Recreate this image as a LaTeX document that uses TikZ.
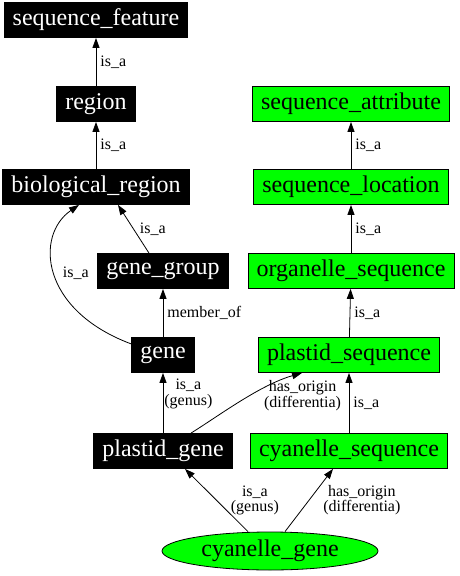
\documentclass[tikz,border=0pt]{standalone}
\usepackage{fontspec}
\setmainfont{Liberation Serif}
\usetikzlibrary{arrows.meta,shapes.geometric}
\begin{document}
\begin{tikzpicture}[x=1pt,y=-1pt,
    term/.style={draw=black, fill=black, text=white, line width=0.8pt, minimum height=35pt, inner xsep=8.5pt, font=\fontsize{24}{28}\selectfont},
    seqterm/.style={term, fill=green, text=black},
    rel/.style={-{Triangle[length=10pt,width=7pt]}, line width=0.8pt},
    lbl/.style={font=\fontsize{16}{15.5}\selectfont, align=center, inner sep=1pt}]
    \useasboundingbox (0,0) rectangle (459,576);
    % left column
    \node[term] (sf) at (96,20) {sequence\_feature};
    \node[term] (reg) at (96,104) {region};
    \node[term] (bioreg) at (96,187) {biological\_region};
    \node[term] (gg) at (163,271) {gene\_group};
    \node[term] (gene) at (163,355) {gene};
    \node[term] (pg) at (163,451) {plastid\_gene};
    % right column
    \node[seqterm] (sa) at (351,104) {sequence\_attribute};
    \node[seqterm] (sl) at (351,187) {sequence\_location};
    \node[seqterm] (os) at (351,271) {organelle\_sequence};
    \node[seqterm] (ps) at (349,355) {plastid\_sequence};
    \node[seqterm] (cs) at (349,451) {cyanelle\_sequence};
    \node[ellipse, draw=black, fill=green, line width=0.8pt, minimum width=216pt, minimum height=38pt, inner sep=0pt, font=\fontsize{24}{28}\selectfont] (cg) at (270,551) {cyanelle\_gene};
    % edges
    \draw[rel] (reg) -- node[lbl, right=3pt] {is\_a} (sf);
    \draw[rel] (bioreg) -- node[lbl, right=3pt] {is\_a} (reg);
    \draw[rel] ([xshift=-14pt]gg.north) -- node[lbl, right=5pt] {is\_a} ([xshift=22pt]bioreg.south);
    \draw[rel] ([yshift=11pt]gene.west) .. controls (40,310) and (35,235) .. node[lbl, midway, right=7pt] {is\_a} ([xshift=-17pt]bioreg.south);
    \draw[rel] (gene) -- node[lbl, right=3pt] {member\_of} (gg);
    \draw[rel] (pg) -- node[lbl, pos=.65, right=0pt] {is\_a\\(genus)} (gene);
    \draw[rel] ([xshift=28pt]pg.north) .. controls (220,415) and (260,385) .. node[lbl, midway, anchor=west, xshift=21pt, yshift=5pt] {has\_origin\\(differentia)} ([xshift=-47pt]ps.south);
    \draw[rel] (cs) -- node[lbl, right=3pt] {is\_a} (ps);
    \draw[rel] (ps) -- node[lbl, right=3pt] {is\_a} (os);
    \draw[rel] (os) -- node[lbl, right=3pt] {is\_a} (sl);
    \draw[rel] (sl) -- node[lbl, right=3pt] {is\_a} (sa);
    \draw[rel] ([xshift=-22pt]cg.north) -- node[lbl, right=13pt] {is\_a\\(genus)} ([xshift=22pt]pg.south);
    \draw[rel] ([xshift=15pt]cg.north) -- node[lbl, right=13pt] {has\_origin\\(differentia)} ([xshift=-16pt]cs.south);
\end{tikzpicture}
\end{document}
